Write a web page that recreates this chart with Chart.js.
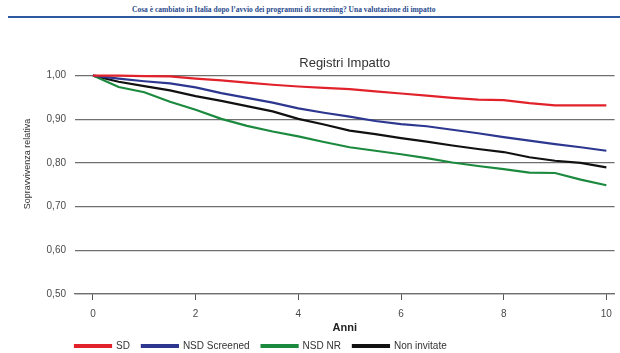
<!DOCTYPE html>
<html>
<head>
<meta charset="utf-8">
<script src="https://cdn.jsdelivr.net/npm/chart.js@4.4.1/dist/chart.umd.min.js"></script>
<style>
  html, body { margin: 0; padding: 0; background: #fff; }
  #wrap { position: relative; width: 620px; height: 353px; overflow: hidden; }
  #head {
    position: absolute; top: 5px; left: 132px; white-space: nowrap;
    font: bold 7.5px "Liberation Serif", "DejaVu Serif", serif; color: #2a4b8d;
  }
  #rule { position: absolute; top: 16px; left: 8px; width: 612px; height: 2px; background: #2d5a9e; }
  #myChart { position: absolute; top: 0; left: 0; }
</style>
</head>
<body>
<div id="wrap">
  <div id="head">Cosa è cambiato in Italia dopo l’avvio dei programmi di screening? Una valutazione di impatto</div>
  <div id="rule"></div>
  <canvas id="myChart" width="620" height="353"></canvas>
</div>
<script>
// survival curves, one value every half year
const anni = [0, 0.5, 1, 1.5, 2, 2.5, 3, 3.5, 4, 4.5, 5, 5.5, 6, 6.5, 7, 7.5, 8, 8.5, 9, 9.5, 10];
const sd = [1.000, 1.000, 0.999, 0.998, 0.993, 0.989, 0.984, 0.979, 0.975, 0.972, 0.969, 0.964, 0.959, 0.954, 0.949, 0.945, 0.944, 0.937, 0.932, 0.932, 0.932];
const nsdScreened = [1.000, 0.993, 0.987, 0.982, 0.973, 0.960, 0.949, 0.938, 0.925, 0.915, 0.906, 0.896, 0.889, 0.884, 0.876, 0.868, 0.859, 0.851, 0.843, 0.836, 0.828];
const nsdNR = [1.000, 0.974, 0.962, 0.940, 0.922, 0.901, 0.885, 0.872, 0.861, 0.848, 0.836, 0.828, 0.820, 0.811, 0.801, 0.793, 0.786, 0.778, 0.777, 0.762, 0.749];
const nonInvitate = [1.000, 0.986, 0.976, 0.966, 0.953, 0.942, 0.930, 0.918, 0.901, 0.888, 0.874, 0.866, 0.857, 0.849, 0.840, 0.832, 0.825, 0.813, 0.805, 0.800, 0.790];

const seriesNames = ["SD", "NSD Screened", "NSD NR", "Non invitate"];
const seriesColors = ["#e1222b", "#2d3790", "#1c8a3e", "#111111"];
const xTicks = [0, 2, 4, 6, 8, 10];
const yTicks = [0.5, 0.6, 0.7, 0.8, 0.9, 1.0];
const titolo = "Registri Impatto";
const xLabel = "Anni";
const yLabel = "Sopravvivenza relativa";

Chart.defaults.font.family = '"Liberation Sans", Arial, sans-serif';

const allSeries = [sd, nsdScreened, nsdNR, nonInvitate];
const datasets = allSeries.map(function (vals, i) {
  return {
    label: seriesNames[i],
    data: anni.map(function (a, j) { return { x: a, y: vals[j] }; }),
    borderColor: seriesColors[i],
    backgroundColor: seriesColors[i],
    borderWidth: 2.2,
    pointRadius: 0,
    tension: 0,
    clip: false,
  };
});

// y title sits a bit above the middle, and the legend starts under the plot's left edge
const extras = {
  id: "extras",
  afterLayout(chart) {
    const lg = chart.legend;
    lg.left = chart.chartArea.left - lg.options.labels.padding;
    lg.top = 329;
  },
  afterDraw(chart) {
    const ctx = chart.ctx;
    ctx.save();
    ctx.translate(28, 164);
    ctx.rotate(-Math.PI / 2);
    ctx.font = '9px "Liberation Sans", Arial, sans-serif';
    ctx.fillStyle = "#333";
    ctx.textAlign = "center";
    ctx.textBaseline = "middle";
    ctx.fillText(yLabel, 0, 0);
    ctx.restore();
  },
};

new Chart(document.getElementById("myChart"), {
  type: "line",
  data: { datasets: datasets },
  plugins: [extras],
  options: {
    responsive: false,
    animation: false,
    layout: { padding: { top: 49, left: 0, right: 5, bottom: 0 } },
    plugins: {
      title: {
        display: true,
        text: titolo,
        fullSize: false,
        color: "#333",
        font: { size: 13, weight: "normal" },
        padding: { top: 7, bottom: 4 },
      },
      legend: {
        position: "bottom",
        align: "start",
        fullSize: false,
        maxHeight: 10,
        labels: {
          boxWidth: 36,
          boxHeight: 2,
          padding: 12,
          color: "#333",
          font: { size: 10 },
        },
      },
      tooltip: { enabled: false },
    },
    scales: {
      x: {
        type: "linear",
        min: -0.35,
        max: 10.16,
        afterBuildTicks: function (scale) {
          scale.ticks = xTicks.map(function (v) { return { value: v }; });
        },
        afterFit: function (scale) {
          scale.height = 49;
        },
        grid: { drawOnChartArea: false, drawTicks: true, tickLength: 6, color: "#555", lineWidth: 1 },
        border: { display: true, color: "#6f6f6f", width: 1.2 },
        ticks: { padding: 8, color: "#4a4a4a", font: { size: 10 } },
        title: {
          display: true,
          text: xLabel,
          color: "#222",
          font: { size: 11, weight: "bold" },
          padding: { top: 0, bottom: 8.4 },
        },
      },
      y: {
        min: 0.5,
        max: 1.0,
        afterBuildTicks: function (scale) {
          scale.ticks = yTicks.map(function (v) { return { value: v }; });
        },
        afterFit: function (scale) {
          scale.width = 75;
        },
        grid: { drawTicks: false, color: "#6f6f6f", lineWidth: 1.2 },
        border: { display: false },
        ticks: {
          padding: 9,
          color: "#4a4a4a",
          font: { size: 10 },
          callback: function (v) { return v.toFixed(2).replace(".", ","); },
        },
      },
    },
  },
});
</script>
</body>
</html>
